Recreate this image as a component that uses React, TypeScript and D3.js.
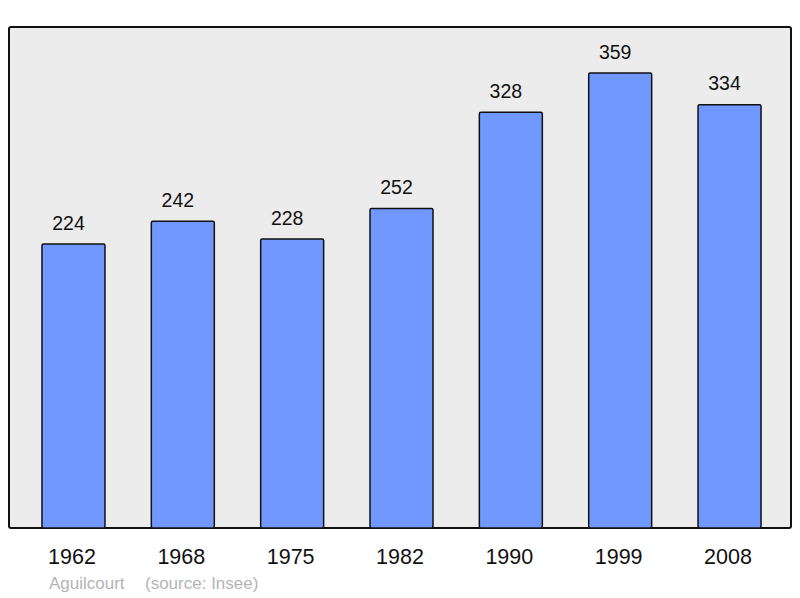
import React from "react";
import * as d3 from "d3";

const years = ["1962", "1968", "1975", "1982", "1990", "1999", "2008"];
const population = [224, 242, 228, 252, 328, 359, 334];
const commune = "Aguilcourt";
const source = "(source: Insee)";

const width = 800;
const height = 598;
const frame = { left: 9, top: 27, right: 791, bottom: 528 };

export default function App() {
  // bands laid out so each bar sits in the middle of its slot
  const x = d3
    .scaleBand<string>()
    .domain(years)
    .range([18.8, 784.2])
    .paddingInner(0.424)
    .paddingOuter(0.212);

  const y = d3.scaleLinear().domain([0, 395.3]).range([frame.bottom, frame.top]);

  const font = "'Liberation Sans', Arial, sans-serif";

  return (
    <svg
      width={width}
      height={height}
      style={{ position: "absolute", left: 0, top: 0 }}
      fontFamily={font}
    >
      <rect x={0} y={0} width={width} height={height} fill="#ffffff" />
      <rect
        x={frame.left}
        y={frame.top}
        width={frame.right - frame.left}
        height={frame.bottom - frame.top}
        rx={2}
        fill="#ececec"
        stroke="#111"
        strokeWidth={2}
      />
      {years.map((yr, i) => {
        const v = population[i];
        const bx = x(yr)!;
        const bw = x.bandwidth();
        const cx = bx + bw / 2;
        return (
          <g key={yr}>
            <rect
              x={bx}
              y={y(v)}
              width={bw}
              height={frame.bottom - y(v)}
              rx={1.5}
              fill="#7098ff"
              stroke="#111"
              strokeWidth={1.5}
            />
            <text
              x={cx - 5}
              y={y(v) - 14.5}
              textAnchor="middle"
              fontSize={19.5}
              fill="#111"
            >
              {v}
            </text>
            <text
              x={cx - 1.5}
              y={564}
              textAnchor="middle"
              fontSize={21.5}
              fill="#111"
            >
              {yr}
            </text>
          </g>
        );
      })}
      <text x={49} y={589} fontSize={17} fill="#b4b4b4">
        {commune}
      </text>
      <text x={145} y={589} fontSize={17} fill="#b4b4b4">
        {source}
      </text>
    </svg>
  );
}
